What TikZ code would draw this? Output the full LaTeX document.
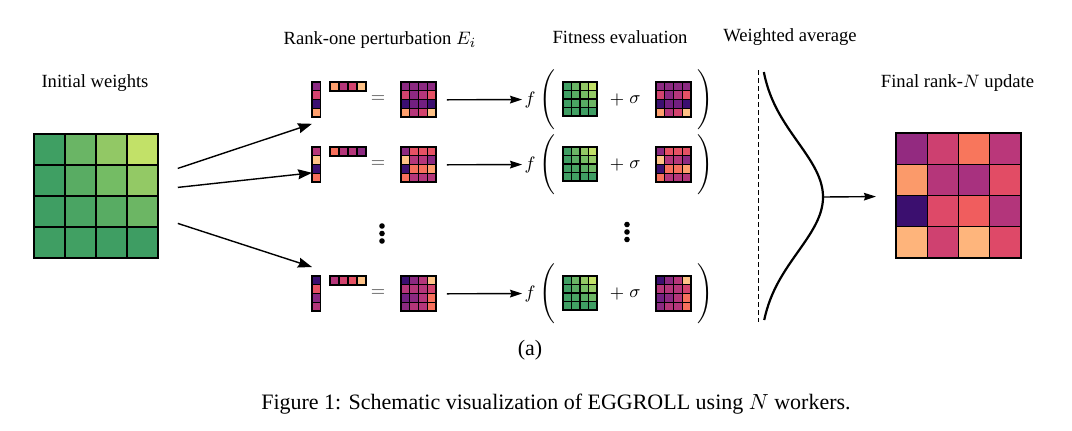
\documentclass[tikz,border=0pt]{standalone}
\usepackage{fontspec}
\setmainfont{Liberation Serif}
\usetikzlibrary{arrows.meta,calc}

% greens of the initial weights
\definecolor{g11}{HTML}{3F9F63}\definecolor{g12}{HTML}{6AB565}\definecolor{g13}{HTML}{92C865}\definecolor{g14}{HTML}{C2E168}
\definecolor{g21}{HTML}{3F9F63}\definecolor{g22}{HTML}{59AC63}\definecolor{g23}{HTML}{74BC64}\definecolor{g24}{HTML}{93C965}
\definecolor{g31}{HTML}{3F9E63}\definecolor{g32}{HTML}{4AA463}\definecolor{g33}{HTML}{58AC63}\definecolor{g34}{HTML}{6CB664}
\definecolor{g41}{HTML}{3F9E63}\definecolor{g42}{HTML}{41A063}\definecolor{g43}{HTML}{3F9E63}\definecolor{g44}{HTML}{3E9D63}
% magma shades
\definecolor{mA}{HTML}{3B0F70}\definecolor{mB}{HTML}{721F81}\definecolor{mC}{HTML}{8C2981}
\definecolor{mD}{HTML}{B5367A}\definecolor{mE}{HTML}{D3436E}\definecolor{mF}{HTML}{E65164}
\definecolor{mG}{HTML}{F7705C}\definecolor{mH}{HTML}{FE9F6D}\definecolor{mI}{HTML}{FEC287}
% final update
\definecolor{fA}{HTML}{932A80}\definecolor{fB}{HTML}{CD4070}\definecolor{fC}{HTML}{F8765C}\definecolor{fD}{HTML}{BA377A}
\definecolor{fE}{HTML}{FB9A6A}\definecolor{fF}{HTML}{B5367A}\definecolor{fG}{HTML}{A8317F}\definecolor{fH}{HTML}{E24C65}
\definecolor{fI}{HTML}{3B0F6F}\definecolor{fJ}{HTML}{DE4968}\definecolor{fK}{HTML}{F05D5E}\definecolor{fL}{HTML}{B3357B}
\definecolor{fM}{HTML}{FEB47B}\definecolor{fN}{HTML}{CF4170}\definecolor{fO}{HTML}{FEB57C}\definecolor{fP}{HTML}{DE4968}

\def\Wzero{g11,g12,g13,g14,g21,g22,g23,g24,g31,g32,g33,g34,g41,g42,g43,g44}
\def\uone{mC,mE,mA,mH}
\def\vone{mH,mD,mE,mI}
\def\Eone{mC,mC,mC,mC,mE,mC,mD,mF,mA,mB,mB,mA,mH,mD,mE,mI}
\def\utwo{mD,mI,mA,mG}
\def\vtwo{mG,mD,mD,mC}
\def\Etwo{mC,mF,mF,mF,mI,mD,mD,mC,mA,mG,mG,mH,mG,mD,mD,mD}
\def\uthree{mA,mF,mC,mD}
\def\vthree{mD,mE,mF,mI}
\def\Ethree{mA,mC,mD,mI,mD,mD,mD,mE,mB,mC,mD,mG,mC,mD,mD,mG}
\def\Dfinal{fA,fB,fC,fD,fE,fF,fG,fH,fI,fJ,fK,fL,fM,fN,fO,fP}

% name, left, top, columns, rows, cell, line width, colours
\newcommand{\cellgrid}[8]{%
  \foreach \clr [count=\idx from 0] in #8 {
    \pgfmathtruncatemacro{\ci}{mod(\idx,#4)}
    \pgfmathtruncatemacro{\ri}{div(\idx,#4)}
    \filldraw[fill=\clr, draw=black, line width=#7] ({#2+\ci*#6},{#3+\ri*#6}) rectangle ++(#6,#6);
  }
  \node[inner sep=0pt, anchor=north west, minimum width={#4*#6*0.5pt}, minimum height={#5*#6*0.5pt}] (#1) at (#2,#3) {};
}

\tikzset{
  lbl/.style={font=\fontsize{9.3}{11}\selectfont, inner sep=0pt},
  sym/.style={font=\fontsize{9.3}{11}\selectfont, inner sep=1pt},
  capt/.style={font=\fontsize{11}{13}\selectfont, inner sep=0pt},
  arr/.style={-{Stealth[length=6pt,width=3.8pt,inset=0.6pt]}, line width=0.7pt},
  arrbig/.style={-{Stealth[length=7pt,width=5pt,inset=0.8pt]}, line width=0.7pt}
}

\begin{document}
\begin{tikzpicture}[x=0.5pt,y=-0.5pt]
  %%%%% START %%%%%
  \useasboundingbox (0,0) rectangle (1072,430);

  % headings
  \node[lbl] (tinit) at (95,83) {Initial weights};
  \node[lbl] (trank) at (380,40) {Rank-one perturbation $E_i$};
  \node[lbl] (tfit) at (620,37) {Fitness evaluation};
  \node[lbl] (tavg) at (790,37) {Weighted average};
  \node[lbl] (tfin) at (957.5,83) {Final rank-$N$ update};

  % initial weights
  \cellgrid{W0}{34}{134}{4}{4}{31}{0.7pt}{\Wzero}

  % worker 1
  \cellgrid{u1}{312}{82}{1}{4}{8.75}{0.6pt}{\uone}
  \cellgrid{v1}{330}{82}{4}{1}{9}{0.6pt}{\vone}
  \node[sym, text=black!70] (eq1) at (378,99.5) {$=$};
  \cellgrid{E1}{401}{82}{4}{4}{8.75}{0.6pt}{\Eone}
  \node[sym] (f1) at (530,99.5) {$f$};
  \node[sym] (lp1) at (547,99.5) {$\Bigg($};
  \cellgrid{G1}{563}{82}{4}{4}{8.5}{0.6pt}{\Wzero}
  \node[sym] (pl1) at (617,99.5) {$+$};
  \node[sym] (sg1) at (635,99.5) {$\sigma$};
  \cellgrid{P1}{656}{82}{4}{4}{8.75}{0.6pt}{\Eone}
  \node[sym] (rp1) at (705,99.5) {$\Bigg)$};
  \draw[arr, shorten <=5pt] (E1) -- (f1);

  % worker 2
  \cellgrid{u2}{312}{147}{1}{4}{8.75}{0.6pt}{\utwo}
  \cellgrid{v2}{330}{147}{4}{1}{9}{0.6pt}{\vtwo}
  \node[sym, text=black!70] (eq2) at (378,164.5) {$=$};
  \cellgrid{E2}{401}{147}{4}{4}{8.75}{0.6pt}{\Etwo}
  \node[sym] (f2) at (530,164.5) {$f$};
  \node[sym] (lp2) at (547,164.5) {$\Bigg($};
  \cellgrid{G2}{563}{147}{4}{4}{8.5}{0.6pt}{\Wzero}
  \node[sym] (pl2) at (617,164.5) {$+$};
  \node[sym] (sg2) at (635,164.5) {$\sigma$};
  \cellgrid{P2}{656}{147}{4}{4}{8.75}{0.6pt}{\Etwo}
  \node[sym] (rp2) at (705,164.5) {$\Bigg)$};
  \draw[arr, shorten <=5pt] (E2) -- (f2);

  % worker N
  \cellgrid{u3}{312}{276}{1}{4}{8.75}{0.6pt}{\uthree}
  \cellgrid{v3}{330}{276}{4}{1}{9}{0.6pt}{\vthree}
  \node[sym, text=black!70] (eq3) at (378,293.5) {$=$};
  \cellgrid{E3}{401}{276}{4}{4}{8.75}{0.6pt}{\Ethree}
  \node[sym] (f3) at (530,293.5) {$f$};
  \node[sym] (lp3) at (547,293.5) {$\Bigg($};
  \cellgrid{G3}{563}{276}{4}{4}{8.5}{0.6pt}{\Wzero}
  \node[sym] (pl3) at (617,293.5) {$+$};
  \node[sym] (sg3) at (635,293.5) {$\sigma$};
  \cellgrid{P3}{656}{276}{4}{4}{8.75}{0.6pt}{\Ethree}
  \node[sym] (rp3) at (705,293.5) {$\Bigg)$};
  \draw[arr, shorten <=5pt] (E3) -- (f3);

  % dots
  \foreach \dy in {226,233.5,241} \fill (382,\dy) circle[radius=1.4pt];
  \foreach \dy in {224.5,232,239.5} \fill (627,\dy) circle[radius=1.4pt];

  % fan out to the workers
  \coordinate (s1) at ($(W0.east)+(19,-28)$);
  \coordinate (s2) at ($(W0.east)+(19,-9)$);
  \coordinate (s3) at ($(W0.east)+(19,27)$);
  \draw[arrbig] (s1) -- ($(u1.south west)+(0,6)$);
  \draw[arrbig] (s2) -- ($(u2.south west)+(0,-10)$);
  \draw[arrbig] (s3) -- ($(u3.north west)+(0,-9)$);

  % weighted average
  \draw[line width=0.5pt, dash pattern=on 2.5pt off 1.5pt] (758,70) -- (758,322);
  \draw[line width=1.1pt, domain=72:320, samples=100, smooth, variable=\t]
    plot ({759+64*exp(-((\t-197)*(\t-197))/6050)},{\t});
  \coordinate (peak) at (823,197);

  % final update
  \cellgrid{D}{896}{133}{4}{4}{31.25}{0.7pt}{\Dfinal}
  \draw[arr, shorten >=10pt] (peak) -- (D);

  % caption
  \node[capt] (sub) at (530,350) {(a)};
  \node[capt] (cap) at (556,404) {Figure 1: Schematic visualization of EGGROLL using $N$ workers.};
  %%%%% END %%%%%
\end{tikzpicture}
\end{document}
